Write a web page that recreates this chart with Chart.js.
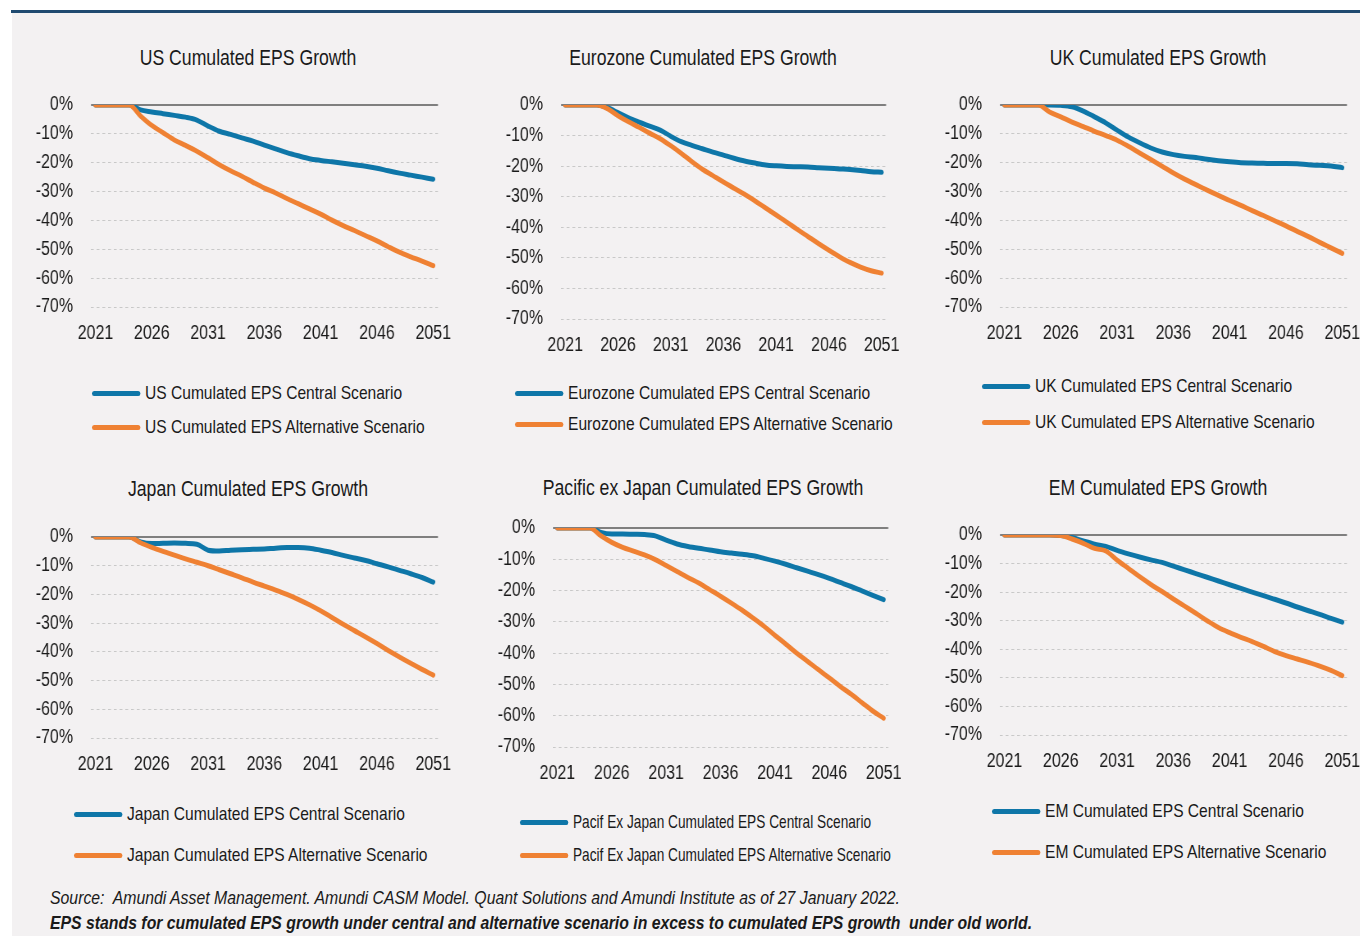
<!DOCTYPE html>
<html>
<head>
<meta charset="utf-8">
<script src="https://cdn.jsdelivr.net/npm/chart.js@4.4.1/dist/chart.umd.min.js"></script>
<style>
  body { margin: 0; width: 1360px; height: 936px; position: relative; overflow: hidden; background: #fff;
         font-family: "Liberation Sans", Arial, sans-serif; color: #1a1a1a; }
  #bg { position: absolute; left: 12px; top: 13px; right: 0; bottom: 0; background: #f3f1f2; }
  #rule { position: absolute; left: 11px; top: 10px; right: 0; height: 3px; background: #1f4a70; }
  /* Arial Narrow look: Liberation Sans squeezed horizontally */
  .title { position: absolute; font-size: 21.5px; transform: translate(-50%, -50%) scaleX(0.82); white-space: nowrap; }
  canvas { position: absolute; }
  .lg { position: absolute; font-size: 19px; white-space: nowrap; display: flex; align-items: center;
        transform-origin: left center; }
  .lg i { display: inline-block; height: 5px; border-radius: 3px; }
  .foot { position: absolute; left: 50px; font-size: 19px; font-style: italic; white-space: pre;
          transform-origin: left center; transform: translateY(-50%) scaleX(0.832); }
</style>
</head>
<body>
<div id="bg"></div>
<div id="rule"></div>
<div class="foot" style="top:898px">Source:  Amundi Asset Management. Amundi CASM Model. Quant Solutions and Amundi Institute as of 27 January 2022.</div>
<div class="foot" style="top:923px;font-weight:bold">EPS stands for cumulated EPS growth under central and alternative scenario in excess to cumulated EPS growth  under old world.</div>
<script>
// years on the x axis, one value per year
const years = [2021, 2022, 2023, 2024, 2025, 2026, 2027, 2028, 2029, 2030,
               2031, 2032, 2033, 2034, 2035, 2036, 2037, 2038, 2039, 2040,
               2041, 2042, 2043, 2044, 2045, 2046, 2047, 2048, 2049, 2050, 2051];
const xTickYears = [2021, 2026, 2031, 2036, 2041, 2046, 2051];

// cumulated EPS growth, %
const usCentral = [0, 0, 0, 0, -1.7, -2.4, -3.0, -3.6, -4.2, -5.2, -7.3, -9.1, -10.2, -11.4, -12.5, -13.9,
  -15.2, -16.5, -17.6, -18.6, -19.2, -19.7, -20.2, -20.7, -21.2, -21.9, -22.8, -23.6, -24.3, -25.0, -25.7];
const usAlternative = [0, 0, 0, 0, -3.8, -7.1, -9.6, -12.1, -14.0, -16.0, -18.3, -20.7, -22.8, -24.7, -26.8, -28.8,
  -30.5, -32.4, -34.2, -36.0, -37.8, -39.9, -41.8, -43.5, -45.3, -47.1, -49.1, -51.0, -52.6, -54.1, -55.7];

const euCentral = [0, 0, 0, 0, -0.9, -2.5, -4.2, -5.6, -6.9, -8.2, -10.2, -12.0, -13.2, -14.3, -15.4, -16.4,
  -17.4, -18.3, -19.0, -19.6, -19.9, -20.1, -20.2, -20.3, -20.5, -20.7, -20.9, -21.1, -21.4, -21.8, -22.0];
const euAlternative = [0, 0, 0, 0, -1.2, -3.5, -5.5, -7.3, -9.2, -11.0, -13.3, -15.8, -18.5, -21.0, -23.1, -25.2,
  -27.2, -29.2, -31.4, -33.7, -36.0, -38.3, -40.7, -43.0, -45.3, -47.5, -49.6, -51.5, -53.0, -54.2, -55.0];

const ukCentral = [0, 0, 0, 0, 0, -0.1, -0.6, -2.1, -4.1, -6.2, -8.7, -11.1, -13.1, -14.9, -16.3, -17.2,
  -17.8, -18.2, -18.8, -19.3, -19.7, -20.0, -20.1, -20.2, -20.3, -20.3, -20.4, -20.7, -20.9, -21.1, -21.7];
const ukAlternative = [0, 0, 0, 0, -2.4, -4.1, -5.9, -7.5, -9.1, -10.6, -12.2, -14.3, -16.6, -18.9, -21.2, -23.6,
  -25.7, -27.6, -29.5, -31.3, -33.1, -34.8, -36.6, -38.3, -40.1, -41.9, -43.8, -45.6, -47.6, -49.5, -51.4];

const jpCentral = [0, 0, 0, 0, -1.7, -2.3, -2.2, -2.1, -2.2, -2.5, -4.6, -4.9, -4.6, -4.4, -4.3, -4.2,
  -3.9, -3.7, -3.7, -3.9, -4.6, -5.4, -6.4, -7.3, -8.2, -9.3, -10.4, -11.6, -12.8, -14.1, -15.7];
const jpAlternative = [0, 0, 0, 0, -2.0, -3.6, -5.0, -6.3, -7.6, -8.8, -10.0, -11.4, -12.8, -14.2, -15.7, -17.1,
  -18.5, -20.0, -21.7, -23.6, -25.7, -28.0, -30.4, -32.6, -34.8, -37.1, -39.5, -41.8, -44.0, -46.1, -48.1];

const pxCentral = [0, 0, 0, 0, -1.4, -1.9, -1.9, -2.0, -2.1, -2.5, -3.9, -5.1, -5.9, -6.5, -7.0, -7.6,
  -8.0, -8.4, -8.9, -9.7, -10.6, -11.6, -12.7, -13.8, -14.9, -16.1, -17.4, -18.7, -20.1, -21.5, -22.9];
const pxAlternative = [0, 0, 0, 0, -2.5, -4.6, -6.2, -7.4, -8.6, -10.1, -12.0, -13.9, -15.8, -17.6, -19.7, -21.8,
  -24.0, -26.3, -28.8, -31.4, -34.3, -37.1, -40.0, -42.6, -45.3, -47.9, -50.6, -53.1, -55.8, -58.5, -60.8];

const emCentral = [0, 0, 0, 0, 0, -0.2, -0.9, -2.1, -3.2, -4.0, -5.4, -6.6, -7.7, -8.7, -9.6, -10.9,
  -12.2, -13.5, -14.8, -16.1, -17.4, -18.7, -20.0, -21.2, -22.5, -23.8, -25.2, -26.5, -27.8, -29.2, -30.5];
const emAlternative = [0, 0, 0, 0, 0, -0.2, -1.4, -2.9, -4.7, -5.6, -8.8, -11.7, -14.6, -17.3, -19.8, -22.4,
  -24.9, -27.4, -30.0, -32.4, -34.2, -35.8, -37.3, -39.0, -40.8, -42.2, -43.4, -44.6, -45.9, -47.4, -49.2];

const BLUE = '#0e76a8';
const ORANGE = '#ef8133';
const FONT = '"Liberation Sans", Arial, sans-serif';
const SX = 0.82; // horizontal squeeze of each canvas, gives the narrow type of the original

const panels = [
  { title: 'US Cumulated EPS Growth', name: 'US', central: usCentral, alt: usAlternative,
    box: [91, 438, 105, 307], titleAt: [248, 58], legend: [92, 393, 427] },
  { title: 'Eurozone Cumulated EPS Growth', name: 'Eurozone', central: euCentral, alt: euAlternative,
    box: [561, 886, 105, 319], titleAt: [703, 58], legend: [515, 393, 424] },
  { title: 'UK Cumulated EPS Growth', name: 'UK', central: ukCentral, alt: ukAlternative,
    box: [1000, 1347, 105, 307], titleAt: [1158, 58], legend: [982, 386, 422] },
  { title: 'Japan Cumulated EPS Growth', name: 'Japan', central: jpCentral, alt: jpAlternative,
    box: [91, 438, 537, 738], titleAt: [248, 489], legend: [74, 814, 855] },
  { title: 'Pacific ex Japan Cumulated EPS Growth', name: 'Pacif Ex Japan', central: pxCentral, alt: pxAlternative,
    box: [553, 888, 528, 747], titleAt: [703, 488], legend: [520, 822, 855], squeeze: 0.72 },
  { title: 'EM Cumulated EPS Growth', name: 'EM', central: emCentral, alt: emAlternative,
    box: [1000, 1347, 535, 735], titleAt: [1158, 488], legend: [992, 811, 852] }
];

const zeroLine = {
  id: 'zeroLine',
  beforeDatasetsDraw(chart) {
    const { ctx, chartArea, scales } = chart;
    const py = scales.y.getPixelForValue(0);
    ctx.save();
    ctx.strokeStyle = '#7f7f7f';
    ctx.lineWidth = 2;
    ctx.beginPath();
    ctx.moveTo(chartArea.left, py);
    ctx.lineTo(chartArea.right, py);
    ctx.stroke();
    ctx.restore();
  }
};

// sizes in page pixels
const yW = 60, xH = 40, padTop = 36, padRight = 30;

function addDiv(cls, text, left, top, extra) {
  const d = document.createElement('div');
  d.className = cls;
  d.style.left = left + 'px';
  d.style.top = top + 'px';
  if (extra) Object.assign(d.style, extra);
  d.textContent = text;
  document.body.appendChild(d);
  return d;
}

function addLegend(p, label, color, y) {
  const k = p.squeeze || SX;
  const d = addDiv('lg', '', p.legend[0], y, { transform: 'translateY(-50%) scaleX(' + k + ')' });
  const sw = document.createElement('i');
  sw.style.background = color;
  sw.style.width = (48 / k) + 'px';
  sw.style.marginRight = (5 / k) + 'px';
  d.appendChild(sw);
  d.appendChild(document.createTextNode(label));
}

panels.forEach(p => {
  const [gl, gr, gt, gb] = p.box;
  addDiv('title', p.title, p.titleAt[0], p.titleAt[1]);
  addLegend(p, p.name + ' Cumulated EPS Central Scenario', BLUE, p.legend[1]);
  addLegend(p, p.name + ' Cumulated EPS Alternative Scenario', ORANGE, p.legend[2]);

  // canvas is drawn wider than shown, then squeezed by SX
  const wi = Math.round((yW + (gr - gl) + padRight) / SX);
  const yWi = yW / SX;
  const padRightI = wi - yWi - (gr - gl) / SX;
  const h = padTop + (gb - gt) + xH;
  const cv = document.createElement('canvas');
  cv.width = wi; cv.height = h;
  cv.style.width = (wi * SX) + 'px'; cv.style.height = h + 'px';
  cv.style.left = (gl - yW) + 'px';
  cv.style.top = (gt - padTop) + 'px';
  document.body.appendChild(cv);

  const toPoints = vals => years.map((yr, i) => ({ x: yr, y: vals[i] }));

  new Chart(cv, {
    type: 'line',
    data: {
      datasets: [
        { label: p.name + ' Cumulated EPS Central Scenario', data: toPoints(p.central), borderColor: BLUE, order: 1 },
        { label: p.name + ' Cumulated EPS Alternative Scenario', data: toPoints(p.alt), borderColor: ORANGE, order: 0 }
      ]
    },
    options: {
      responsive: false,
      animation: false,
      devicePixelRatio: 1,
      layout: { padding: { top: padTop, right: padRightI, left: 0, bottom: 0 } },
      elements: {
        line: { borderWidth: 5, cubicInterpolationMode: 'monotone', borderCapStyle: 'round', borderJoinStyle: 'round', fill: false },
        point: { radius: 0 }
      },
      plugins: { legend: { display: false }, tooltip: { enabled: false }, title: { display: false } },
      scales: {
        x: {
          type: 'linear', min: 2020.6, max: 2051.42,
          afterBuildTicks: s => { s.ticks = xTickYears.map(v => ({ value: v })); },
          afterFit: s => { s.height = xH; },
          grid: { display: false },
          border: { display: false },
          ticks: { font: { family: FONT, size: 19.5 }, color: '#1a1a1a', padding: 7, maxRotation: 0, autoSkip: false,
                   callback: v => String(v) }
        },
        y: {
          min: -70, max: 0,
          afterFit: s => { s.width = yWi; },
          grid: { color: c => (c.tick && c.tick.value === 0) ? 'rgba(0,0,0,0)' : '#c8c8c8', lineWidth: 1, drawTicks: false },
          border: { display: false, dash: [3.5, 3.5] },
          ticks: { stepSize: 10, font: { family: FONT, size: 19.5 }, color: '#1a1a1a', padding: 18 / SX,
                   callback: v => v + '%' }
        }
      }
    },
    plugins: [zeroLine]
  });
});
</script>
</body>
</html>
